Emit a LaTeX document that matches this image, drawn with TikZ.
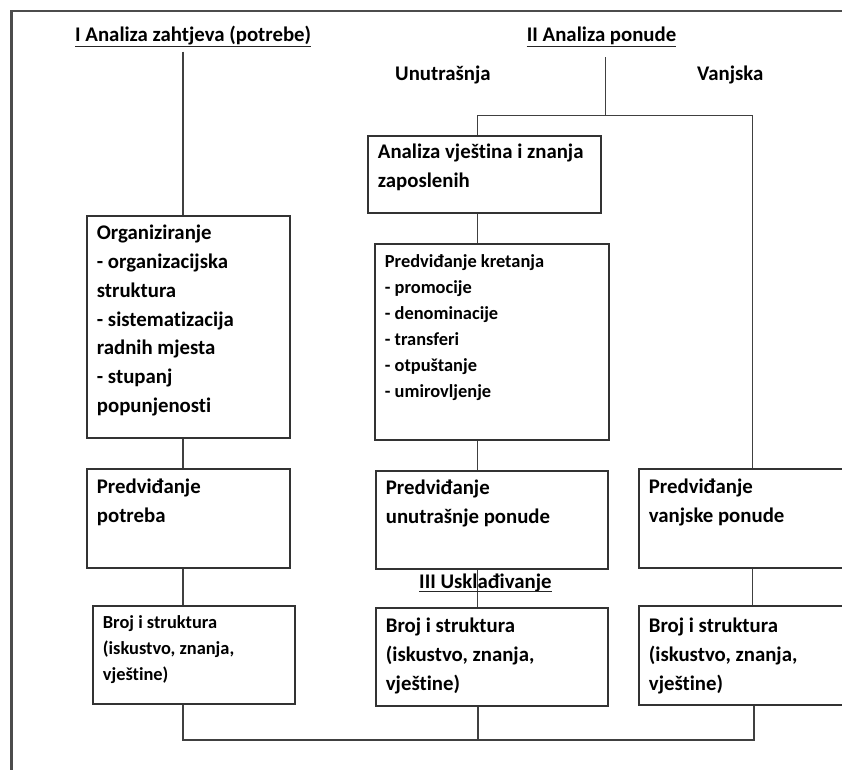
\documentclass[tikz,border=0pt]{standalone}
\usepackage{fontspec}
\setmainfont{Carlito}[Ligatures=NoCommon]
\newcommand\mainfs{\bfseries\fontsize{20.8pt}{28.7pt}\selectfont}
\newcommand\smallfs{\bfseries\fontsize{18.4pt}{26pt}\selectfont}
\newcommand\bt[4]{\parbox[c][#1][t]{#2}{\raggedright\rule{0pt}{#3}#4}}
\tikzset{
  box/.style={draw=black!80, line width=1.8pt, anchor=north west, inner ysep=0pt, inner xsep=10pt, font=\mainfs},
  conn/.style={draw=black!75, line width=1.7pt},
  frame/.style={draw=black!70, line width=2.2pt},
  ttl/.style={anchor=base west, inner sep=0pt, font=\mainfs},
  uline/.style={draw=black!85, line width=1.2pt}
}
\begin{document}
\begin{tikzpicture}[x=1pt,y=-1pt]
\useasboundingbox (0,0) rectangle (842,769);
\clip (0,0) rectangle (842,769);
% frame
\draw[frame] (11.5,790) -- (11.5,11) -- (860,11);
% titles
\node[ttl] (t1) at (75,41.7) {I Analiza zahtjeva (potrebe)};
\node[ttl] (t2) at (526.7,41.7) {II Analiza ponude};
\node[ttl] (tu) at (395,80) {Unutrašnja};
\node[ttl] (tv) at (697,80) {Vanjska};
\draw[uline] ([yshift=-5pt]t1.base west) -- ([yshift=-5pt]t1.base east);
\draw[uline] ([yshift=-5pt]t2.base west) -- ([yshift=-5pt]t2.base east);
% left column
\node[box, minimum width=203pt, minimum height=222pt] (org) at (86,215)
  {\bt{222pt}{183pt}{24pt}{Organiziranje\\- organizacijska\\struktura\\- sistematizacija\\radnih mjesta\\- stupanj\\popunjenosti}};
\node[box, minimum width=203pt, minimum height=99pt] (pp) at (86,468)
  {\bt{99pt}{183pt}{25pt}{Predviđanje\\potreba}};
\node[box, font=\smallfs, minimum width=202pt, minimum height=98pt] (bl) at (92,605)
  {\bt{98pt}{182pt}{23pt}{Broj i struktura\\(iskustvo, znanja,\\vještine)}};
% middle column
\node[box, minimum width=233pt, minimum height=77pt] (an) at (367,135)
  {\bt{77pt}{213pt}{23pt}{Analiza vještina i znanja\\zaposlenih}};
\node[box, font=\smallfs, minimum width=234pt, minimum height=196pt] (kr) at (374,243)
  {\bt{196pt}{214pt}{23.7pt}{Predviđanje kretanja\\- promocije\\- denominacije\\- transferi\\- otpuštanje\\- umirovljenje}};
\node[box, minimum width=232pt, minimum height=98pt] (un) at (375,470)
  {\bt{98pt}{212pt}{24pt}{Predviđanje\\unutrašnje ponude}};
\node[box, minimum width=232pt, minimum height=98pt] (bm) at (375,607)
  {\bt{98pt}{212pt}{25pt}{Broj i struktura\\(iskustvo, znanja,\\vještine)}};
% right column
\node[box, minimum width=215pt, minimum height=99pt] (vn) at (638,468)
  {\bt{99pt}{195pt}{25pt}{Predviđanje\\vanjske ponude}};
\node[box, minimum width=215pt, minimum height=99pt] (br) at (638,605)
  {\bt{99pt}{195pt}{27pt}{Broj i struktura\\(iskustvo, znanja,\\vještine)}};
% coordinates
\coordinate (ta) at (182.7,51.7);
\coordinate (tb) at (605.5,57);
\coordinate (sb) at (605.5,115.5);
\coordinate (lb) at (477.5,115.5);
\coordinate (rc) at (752.5,115.5);
\coordinate (ba) at (183,740);
\coordinate (bb) at (478,740);
\coordinate (bc) at (754.3,740);
% connectors left
\draw[conn] (ta) -- (ta |- org.north);
\draw[conn] (ta |- org.south) -- (ta |- pp.north);
\draw[conn] (ta |- pp.south) -- (ta |- bl.north);
% connectors middle / right
\draw[conn] (tb) -- (sb);
\draw[conn] (lb |- an.north) -- (lb) -- (rc) -- (rc |- vn.north);
\draw[conn] (lb |- an.south) -- (lb |- kr.north);
\draw[conn] (lb |- kr.south) -- (lb |- un.north);
\draw[conn] (lb |- un.south) -- (lb |- bm.north);
\draw[conn] (rc |- vn.south) -- (rc |- br.north);
% bottom join
\draw[conn] (ba |- bl.south) -- (ba) -- (bc) -- (bc |- br.south);
\draw[conn] (bb |- bm.south) -- (bb);
% III
\node[ttl] (t3) at (419,588.3) {III Usklađivanje};
\draw[uline] ([yshift=-3.5pt]t3.base west) -- ([yshift=-3.5pt]t3.base east);
\end{tikzpicture}
\end{document}
